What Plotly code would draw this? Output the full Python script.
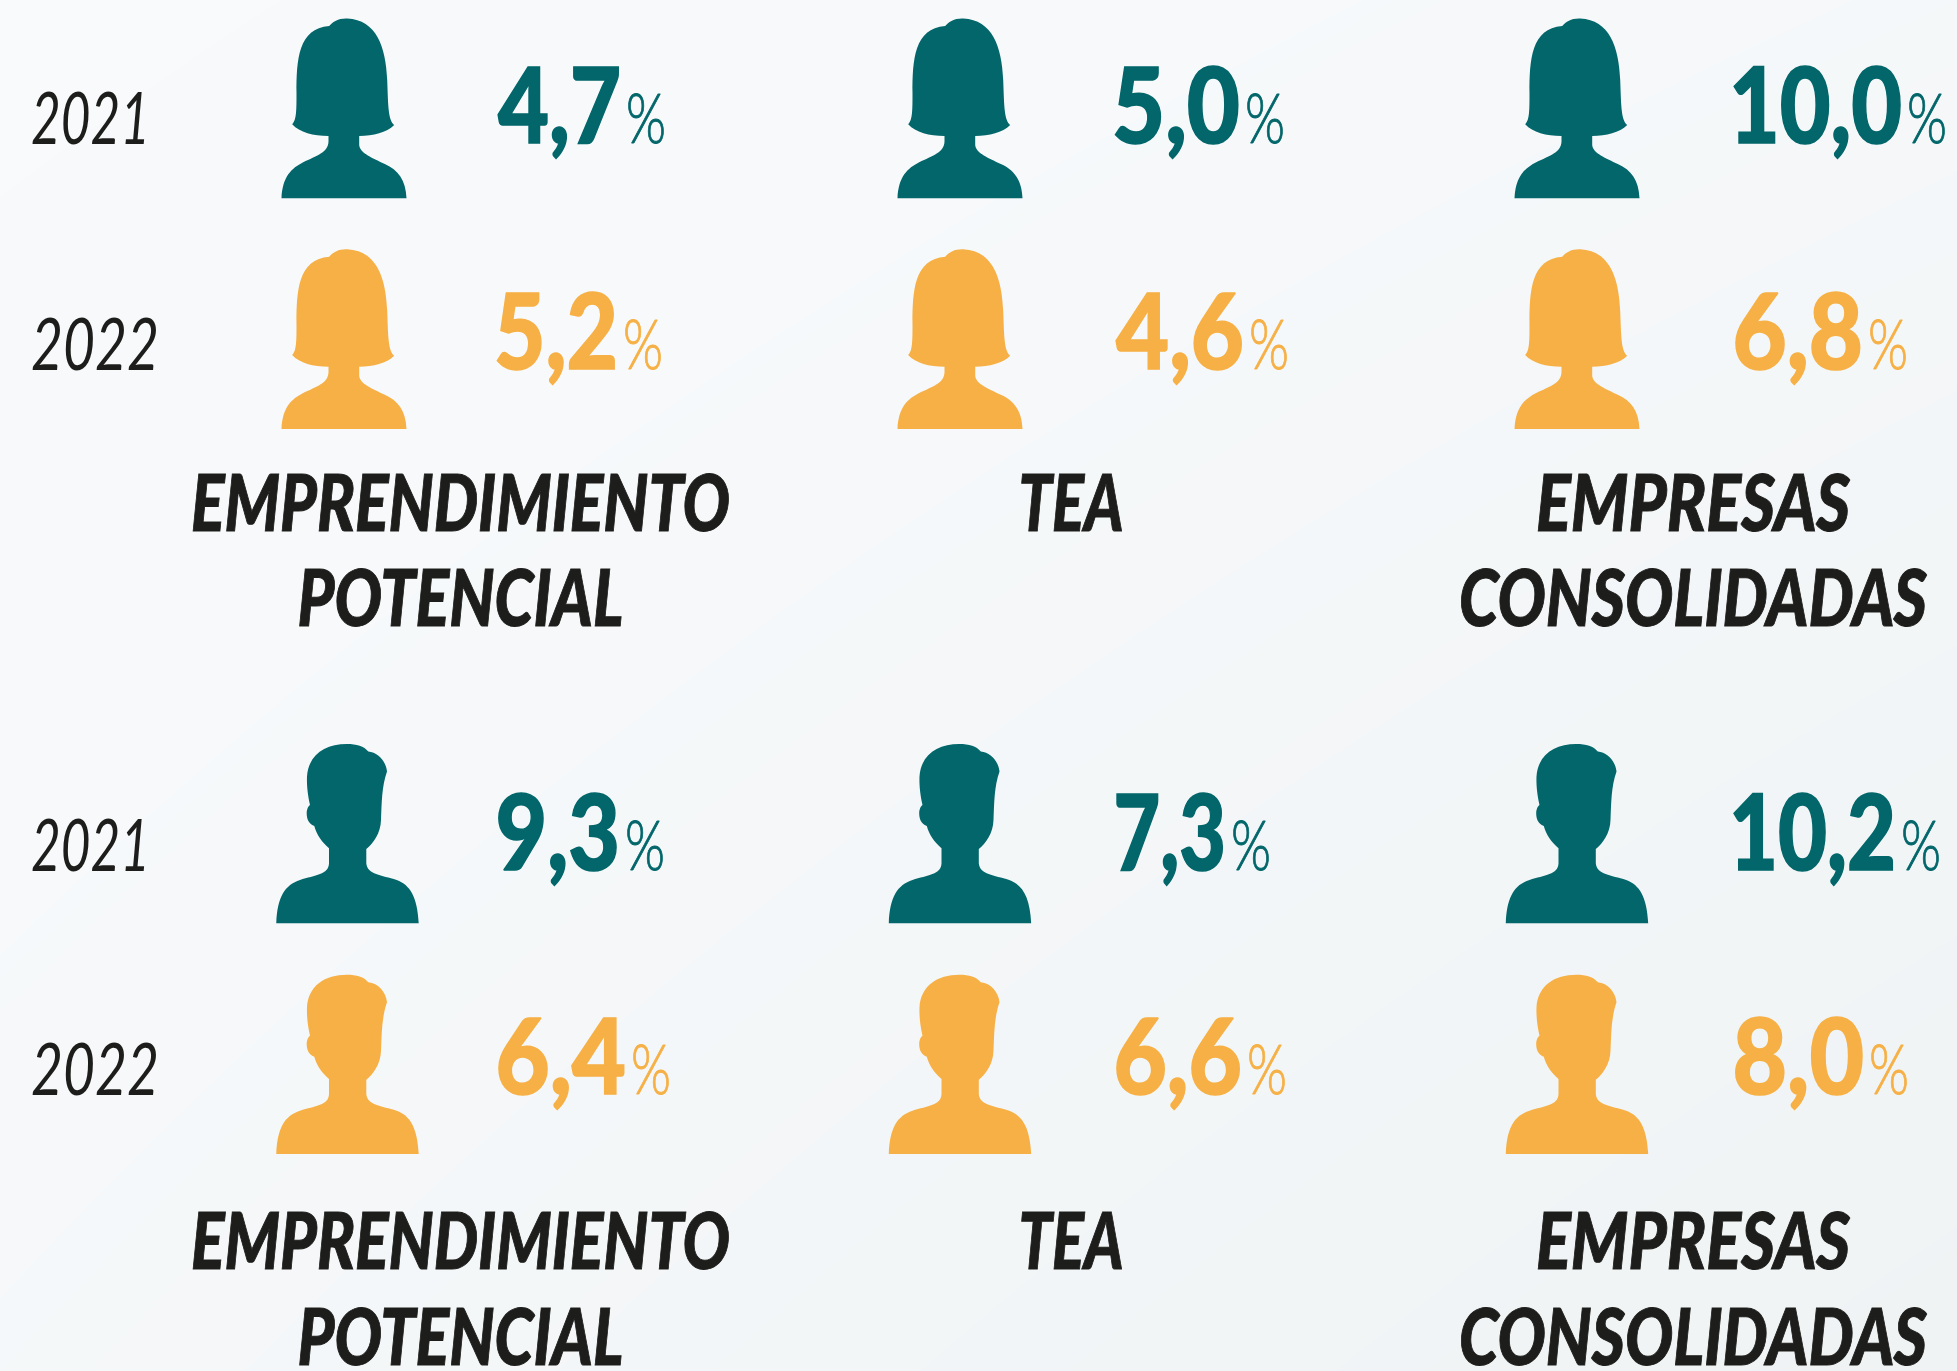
import json
import plotly.graph_objects as go

# ---- data ----
years = ["2021", "2022"]
categories = [["EMPRENDIMIENTO", "POTENCIAL"], ["TEA"], ["EMPRESAS", "CONSOLIDADAS"]]
women_2021 = ["4,7", "5,0", "10,0"]
women_2022 = ["5,2", "4,6", "6,8"]
men_2021 = ["9,3", "7,3", "10,2"]
men_2022 = ["6,4", "6,6", "8,0"]

# ---- layout / style ----
W, H = 1957, 1371
TEAL, AMBER, INK = "#02666a", "#f6b045", "#1d1d1b"
FONT = "Lato"
row_baseline = [145, 371, 872, 1096]
row_icon_bottom = [198.3, 429, 923.3, 1154]
row_colors = [TEAL, AMBER, TEAL, AMBER]
row_values = [women_2021, women_2022, men_2021, men_2022]
num_x = [498, 1116, 1735]
pct_x = [[626, 1245, 1907], [623, 1249, 1868], [625, 1231, 1901], [631, 1247, 1869]]
female_cx = [344, 960, 1577]
male_cx = [347.5, 960, 1577]
label_cx = [460.5, 1071, 1693]
label_y = [[511.5, 606.5], [1249.5, 1345.5]]
# side bearing of the leading digit in the installed font
lead = {"4": 0, "5": -4, "6": -2.5, "7": -2.5, "8": -2.5, "9": -2.5, "1": -6}

# rendered text widths in pixels, used to condense the installed font
fit = {"EMPRENDIMIENTO": 539, "POTENCIAL": 326, "TEA": 105, "EMPRESAS": 314, "CONSOLIDADAS": 468,
       "2021": 119, "2022": 128, "%": 40}
for r, vals in enumerate(row_values):
    for c, v in enumerate(vals):
        fit[v] = pct_x[r][c] - num_x[c] - 5 - lead[v[0]]

FEMALE = [("M", 65, 595), ("C", 68, 530, 95, 505, 130, 487), ("C", 170, 468, 205, 458, 206, 425),
          ("L", 206, 408), ("C", 160, 408, 120, 398, 97, 373), ("C", 110, 360, 110, 330, 110, 280),
          ("C", 110, 180, 115, 85, 208, 78), ("C", 220, 65, 235, 55, 262, 56),
          ("C", 350, 60, 378, 140, 382, 240), ("C", 385, 320, 385, 360, 403, 375),
          ("C", 380, 398, 340, 408, 298, 408), ("L", 298, 435), ("C", 300, 460, 340, 475, 375, 492),
          ("C", 415, 510, 438, 540, 440, 595)]
MALE = [("M", 49, 610), ("C", 52, 530, 75, 495, 120, 480), ("C", 165, 465, 206, 465, 207, 430),
        ("L", 207, 385), ("C", 185, 365, 170, 345, 163, 318), ("C", 145, 312, 140, 295, 140, 280),
        ("C", 140, 268, 145, 258, 150, 255), ("C", 142, 220, 140, 190, 141, 170),
        ("C", 145, 105, 195, 72, 260, 72), ("C", 290, 72, 312, 78, 325, 95),
        ("C", 355, 97, 378, 125, 381, 155), ("C", 365, 200, 365, 250, 363, 300),
        ("C", 362, 340, 340, 370, 319, 387), ("L", 319, 430), ("C", 322, 465, 365, 465, 410, 480),
        ("C", 450, 495, 472, 530, 476, 610)]


def icon_path(outline, cx0, bottom0, cx, bottom):
    parts = []
    for seg in outline:
        c = seg[0]
        v = seg[1:]
        pts = [f"{cx + (v[i] - cx0) / 3:.1f},{bottom + (v[i + 1] - bottom0) / 3:.1f}" for i in range(0, len(v), 2)]
        parts.append(c + " ".join(pts))
    return " ".join(parts) + " Z"


fig = go.Figure()
fig.add_trace(go.Heatmap(x=[0, W], y=[0, H], z=[[0.1, 0.45], [0.45, 1.0]], zsmooth="best",
                         zmin=0, zmax=1, showscale=False, hoverinfo="skip",
                         colorscale=[[0, "#f8fafb"], [0.3, "#f7f9fb"], [1, "#eff3f4"]]))

shapes = []
for r, bottom in enumerate(row_icon_bottom):
    for c in range(3):
        if r < 2:
            path = icon_path(FEMALE, 252.5, 595, female_cx[c], bottom)
        else:
            path = icon_path(MALE, 262.5, 610, male_cx[c], bottom)
        shapes.append(dict(type="path", path=path, fillcolor=row_colors[r], line_width=0,
                           xref="x", yref="y", layer="above"))


def add_text(xs, ys, texts, pos, font):
    fig.add_trace(go.Scatter(x=xs, y=ys, text=texts, mode="text", textposition=pos,
                             textfont=font, hoverinfo="skip", showlegend=False, cliponaxis=False))


for r in range(4):
    color = row_colors[r]
    base = row_baseline[r]
    xs = [num_x[c] + lead[row_values[r][c][0]] for c in range(3)]
    add_text(xs, [base - 28] * 3, row_values[r], "middle right",
             dict(family=FONT, size=104, color=color, weight=900))
    add_text(pct_x[r], [base - 19] * 3, ["%"] * 3, "middle right",
             dict(family=FONT, size=68, color=color, weight=300))
    add_text([31], [base - 19], [years[r % 2]], "middle right",
             dict(family=FONT, size=72, color=INK, style="italic", weight=400))

for block in label_y:
    for c, lines in enumerate(categories):
        for i, line in enumerate(lines):
            add_text([label_cx[c]], [block[i]], [line], "middle center",
                     dict(family=FONT, size=78, color=INK, style="italic", weight=900))

fig.update_layout(width=W, height=H, margin=dict(l=0, r=0, t=0, b=0), showlegend=False,
                  paper_bgcolor="#f6f8fa", plot_bgcolor="rgba(0,0,0,0)", shapes=shapes,
                  xaxis=dict(range=[0, W], visible=False, fixedrange=True),
                  yaxis=dict(range=[H, 0], visible=False, fixedrange=True))

post = """
document.body.style.margin='0';document.body.style.overflow='hidden';
var fit = %s;
document.querySelectorAll('.textpoint text').forEach(function(t){
  var s = t.textContent, w = fit[s];
  if (w) { t.setAttribute('textLength', w); t.setAttribute('lengthAdjust', 'spacingAndGlyphs'); }
  if (s.indexOf('202') !== 0) {
    t.style.stroke = t.style.fill;
    t.style.strokeWidth = s === '%%' ? '0.9px' : (s.indexOf(',') > 0 ? '1.6px' : '1px');
  }
});
""" % json.dumps(fit)

fig.write_html("out.html", config={"displayModeBar": False}, post_script=post)
